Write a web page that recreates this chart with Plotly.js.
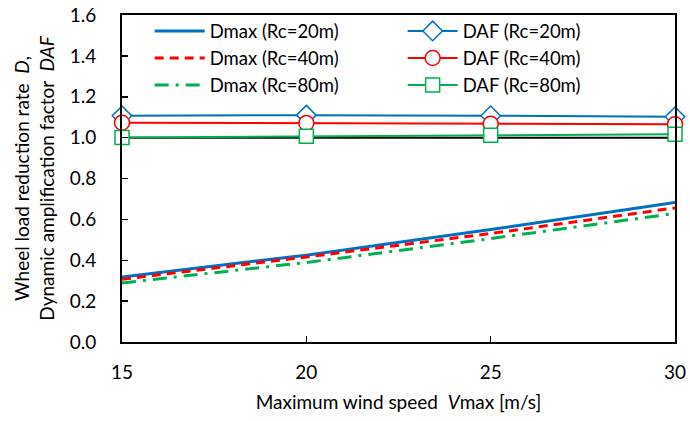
<!DOCTYPE html>
<html>
<head>
<meta charset="utf-8">
<script src="https://cdn.plot.ly/plotly-3.0.1.min.js"></script>
<style>html,body{margin:0;padding:0;background:#fff;}#chart{width:690px;height:421px;}</style>
</head>
<body>
<div id="chart"></div>
<script>
var windSpeed = [15, 20, 25, 30];
var dmaxRc20 = [0.318, 0.425, 0.550, 0.683];
var dmaxRc40 = [0.307, 0.416, 0.531, 0.656];
var dmaxRc80 = [0.289, 0.389, 0.506, 0.629];
var dafRc20 = [1.107, 1.110, 1.107, 1.102];
var dafRc40 = [1.073, 1.071, 1.068, 1.066];
var dafRc80 = [1.001, 1.007, 1.012, 1.017];
var referenceLine = [1.0, 1.0, 1.0, 1.0];

var BLUE = '#0070C0', RED = '#FF0000', GREEN = '#00B050';

var traces = [
  {x: windSpeed, y: referenceLine, mode: 'lines', line: {color: '#000', width: 2}, showlegend: false, hoverinfo: 'skip'},
  {x: windSpeed, y: dmaxRc20, name: 'Dmax (Rc=20m)', mode: 'lines', line: {color: BLUE, width: 3}},
  {x: windSpeed, y: dafRc20, name: 'DAF (Rc=20m)', mode: 'lines+markers', line: {color: BLUE, width: 2},
   marker: {symbol: 'diamond', size: 15, color: '#fff', line: {color: BLUE, width: 1.5}}, cliponaxis: false},
  {x: windSpeed, y: dmaxRc40, name: 'Dmax (Rc=40m)', mode: 'lines', line: {color: RED, width: 3, dash: '9px,6px'}},
  {x: windSpeed, y: dafRc40, name: 'DAF (Rc=40m)', mode: 'lines+markers', line: {color: RED, width: 2},
   marker: {symbol: 'circle', size: 15, color: '#fff', line: {color: RED, width: 1.5}}, cliponaxis: false},
  {x: windSpeed, y: dmaxRc80, name: 'Dmax (Rc=80m)', mode: 'lines', line: {color: GREEN, width: 3, dash: '14px,7px,3px,7px'}},
  {x: windSpeed, y: dafRc80, name: 'DAF (Rc=80m)', mode: 'lines+markers', line: {color: GREEN, width: 2},
   marker: {symbol: 'square', size: 14, color: '#fff', line: {color: GREEN, width: 1.5}}, cliponaxis: false}
];

var layout = {
  width: 690, height: 421,
  margin: {l: 122, r: 15, t: 15, b: 79},
  paper_bgcolor: '#fff', plot_bgcolor: '#fff',
  font: {family: 'Lato, "Open Sans", sans-serif', size: 19, color: '#000'},
  showlegend: true,
  legend: {
    orientation: 'h', x: 0.05, y: 1.008, xanchor: 'left', yanchor: 'top',
    entrywidth: 188, entrywidthmode: 'pixels', itemwidth: 50,
    bgcolor: 'rgba(0,0,0,0)', font: {size: 18.5}, tracegroupgap: 0
  },
  xaxis: {
    range: [15, 30], dtick: 5, tick0: 15,
    ticks: 'inside', ticklen: 6, tickwidth: 1.5, tickcolor: '#000',
    showline: true, mirror: true, linecolor: '#000', linewidth: 2,
    showgrid: false, zeroline: false, ticklabelstandoff: 12,
    tickfont: {size: 19},
    title: {text: 'Maximum wind speed  <i>V</i>max [m/s]', font: {size: 19}, standoff: 14}
  },
  yaxis: {
    range: [0, 1.6], dtick: 0.2, tick0: 0, tickformat: '.1f',
    ticks: 'inside', ticklen: 6, tickwidth: 1.5, tickcolor: '#000',
    showline: true, mirror: true, linecolor: '#000', linewidth: 2,
    showgrid: false, zeroline: false, ticklabelstandoff: 20,
    tickfont: {size: 19},
    title: {text: 'Wheel load reduction rate  <i>D</i>,<br>Dynamic amplification factor  <i>DAF</i>', font: {size: 19}, standoff: 10}
  }
};

Plotly.newPlot('chart', traces, layout, {displayModeBar: false, staticPlot: true});
</script>
</body>
</html>
